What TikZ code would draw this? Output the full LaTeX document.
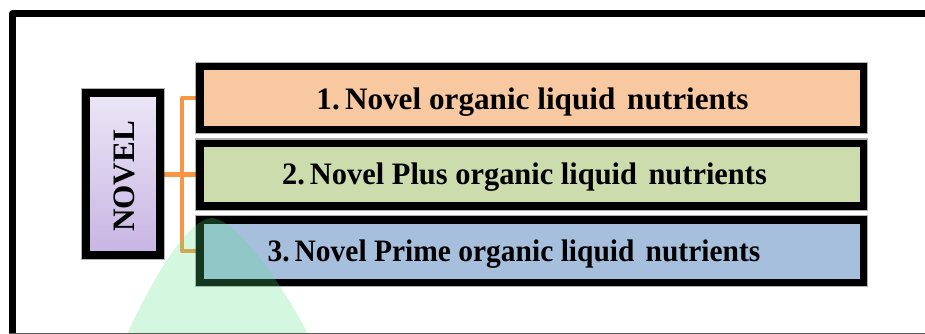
\documentclass[tikz,border=0pt]{standalone}
\usepackage{graphicx}
\usepackage{fontspec}
\setmainfont{Liberation Serif}
\definecolor{orangefill}{RGB}{248,201,160}
\definecolor{greenfill}{RGB}{205,220,172}
\definecolor{bluefill}{RGB}{166,191,221}
\definecolor{purpletop}{RGB}{235,230,246}
\definecolor{purplebot}{RGB}{200,181,227}
\definecolor{connorange}{RGB}{247,150,70}
\definecolor{conegreen}{RGB}{83,223,131}
\definecolor{edgegray}{RGB}{90,90,90}
\begin{document}
\begin{tikzpicture}[x=1pt,y=-1pt,
  halo/.style={preaction={draw=black, draw opacity=0.3, line width=10pt}},
  itembox/.style={draw=black, line width=7.5pt, minimum width=663.5pt, minimum height=62.5pt, inner sep=0pt, halo},
  novelbox/.style={draw=black, line width=8pt, minimum width=74pt, minimum height=162pt, inner sep=0pt, top color=purpletop, bottom color=purplebot, halo},
  txtstyle/.style={font=\fontsize{31.2}{36}\selectfont\bfseries, inner sep=0pt, anchor=base},
  conn/.style={draw=connorange, line width=4.5pt, line join=round},
  framestyle/.style={line width=6.5pt, line join=round}]
\useasboundingbox (0,0) rectangle (925,334);
% outer frame
\draw[framestyle] (12.5,340) -- (12.5,13.5) -- (930,13.5);
% node positions (invisible) so connectors run under the boxes
\coordinate (trunk) at (182,174.5);
\node[minimum width=74pt, minimum height=162pt, inner sep=0pt] (novelpos) at (123,174) {};
\node[minimum width=663.5pt, minimum height=62.5pt, inner sep=0pt] (b1pos) at (531.5,98) {};
\node[minimum width=663.5pt, minimum height=62.5pt, inner sep=0pt] (b2pos) at (531.5,174.5) {};
\node[minimum width=663.5pt, minimum height=62.5pt, inner sep=0pt] (b3pos) at (531.5,251) {};
\draw[conn] (novelpos.east |- trunk) -- (trunk);
\draw[conn] (b1pos.west) -| (trunk) |- (b3pos.west);
\draw[conn] (trunk) -- (b2pos.west);
% boxes
\node[novelbox] (novel) at (123,174) {};
\node[txtstyle, rotate=90, anchor=center, text height=21pt, text depth=0pt] (noveltxt) at ([xshift=1pt,yshift=-2.5pt]novel.center) {NOVEL};
\node[itembox, fill=orangefill] (b1) at (531.5,98) {};
\node[itembox, fill=greenfill] (b2) at (531.5,174.5) {};
\node[itembox, fill=bluefill] (b3) at (531.5,251) {};
\node[txtstyle] (t1) at (532.5,109.3) {1.\,Novel organic liquid\hspace{4pt} nutrients};
\node[txtstyle] (t2) at (524.5,184.3) {\scalebox{0.975}[1]{2.\,Novel Plus organic liquid\hspace{4pt} nutrients}};
\node[txtstyle] (t3) at (514,261.3) {\scalebox{0.945}[1]{3.\,Novel Prime organic liquid\hspace{4pt} nutrients}};
% translucent green cone
\fill[conegreen, fill opacity=0.25] (127,334) .. controls (150,285) and (186,219) .. (212,218)
  .. controls (236,219) and (283,285) .. (308,334) -- cycle;
% bottom edge
\draw[edgegray, line width=1pt] (9,333.5) -- (925,333.5);
\end{tikzpicture}
\end{document}
